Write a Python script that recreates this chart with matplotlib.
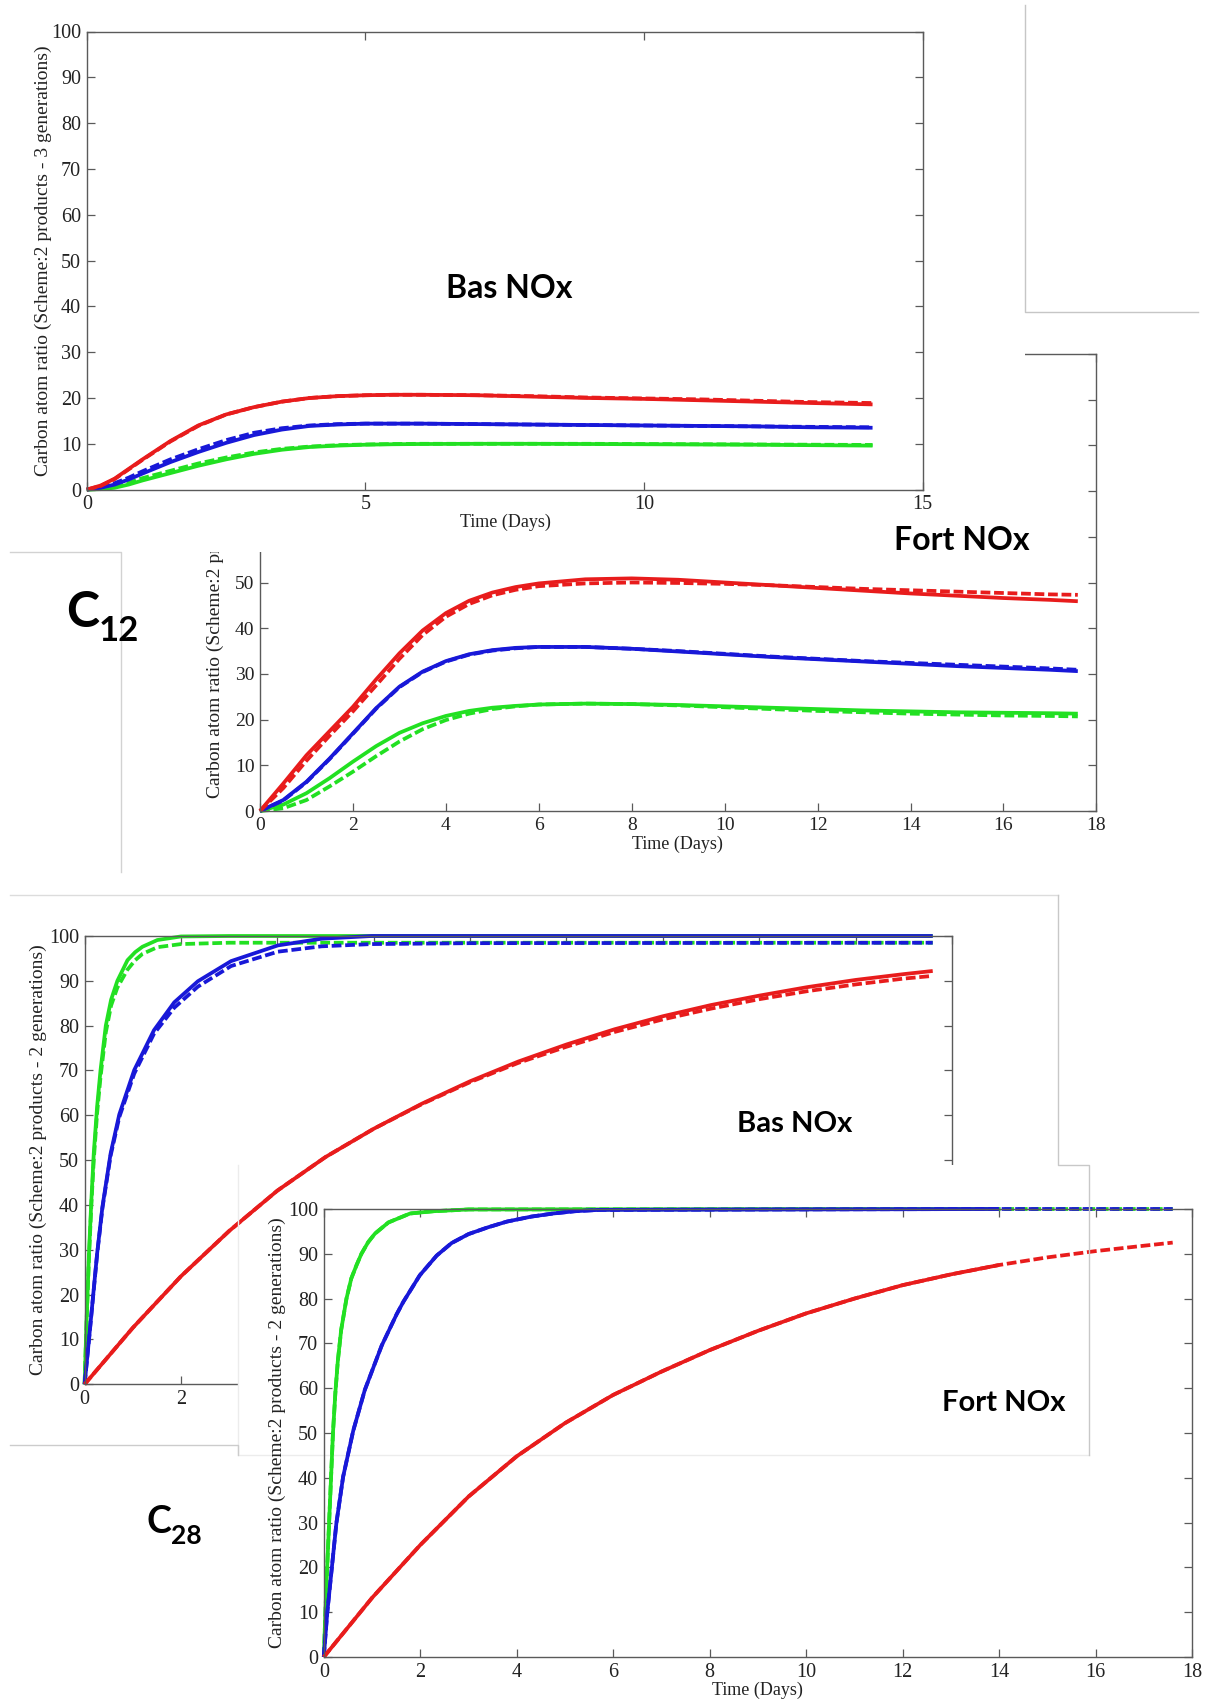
import matplotlib
matplotlib.use('Agg')
import matplotlib.pyplot as plt
from matplotlib.patches import Rectangle
from matplotlib.lines import Line2D

plt.rcParams['font.family'] = ['Liberation Serif', 'DejaVu Serif']

W, H = 1206, 1702

# ------------------------------------------------------------------ data
# C12 - low NOx ("Bas NOx"), 3 generations
t_c12_bas = [0, 0.25, 0.5, 0.75, 1.0, 1.5, 2.0, 2.5, 3.0, 3.5, 4.0, 4.5, 5.0, 5.5, 6.0,
             7.0, 8.0, 9.0, 10.0, 11.0, 12.0, 13.0, 14.1]
red_c12_bas = [0, 0.9, 2.4, 4.5, 6.6, 10.6, 14.0, 16.4, 18.0, 19.2, 20.0, 20.4, 20.6, 20.7, 20.7,
               20.6, 20.3, 20.0, 19.8, 19.5, 19.2, 18.9, 18.6]
red_c12_bas_ref = [0, 0.8, 2.3, 4.4, 6.5, 10.5, 13.9, 16.4, 18.0, 19.2, 20.0, 20.4, 20.6, 20.7, 20.7,
                   20.6, 20.4, 20.1, 19.9, 19.7, 19.4, 19.1, 18.9]
blue_c12_bas = [0, 0.4, 1.1, 2.2, 3.5, 6.0, 8.2, 10.2, 11.9, 13.1, 13.9, 14.2, 14.4, 14.4, 14.4,
                14.3, 14.2, 14.1, 14.0, 13.9, 13.8, 13.6, 13.5]
blue_c12_bas_ref = [0, 0.5, 1.4, 2.6, 4.0, 6.6, 8.8, 10.8, 12.4, 13.4, 14.0, 14.3, 14.4, 14.4, 14.4,
                    14.3, 14.2, 14.1, 14.0, 13.9, 13.8, 13.7, 13.6]
green_c12_bas = [0, 0.1, 0.4, 1.1, 2.0, 3.6, 5.2, 6.6, 7.8, 8.7, 9.3, 9.6, 9.8, 9.9, 9.95,
                 10.0, 10.0, 9.95, 9.9, 9.85, 9.8, 9.7, 9.6]
green_c12_bas_ref = [0, 0.2, 0.7, 1.5, 2.5, 4.1, 5.7, 7.0, 8.1, 8.9, 9.4, 9.7, 9.85, 9.95, 10.0,
                     10.0, 10.0, 10.0, 9.95, 9.9, 9.85, 9.8, 9.75]

# C12 - high NOx ("Fort NOx")
t_c12_fort = [0, 0.5, 1, 1.5, 2, 2.5, 3, 3.5, 4, 4.5, 5, 5.5, 6, 7, 8, 9, 10, 11, 12, 13, 14,
              15, 16, 17, 17.6]
red_c12_fort = [0, 6.0, 12.2, 17.5, 22.8, 28.8, 34.5, 39.5, 43.3, 46.0, 47.8, 49.0, 49.8, 50.7,
                50.9, 50.6, 50.0, 49.4, 48.8, 48.2, 47.6, 47.1, 46.6, 46.2, 45.9]
red_c12_fort_ref = [0, 5.0, 11.0, 16.5, 21.8, 27.5, 33.3, 38.5, 42.5, 45.3, 47.2, 48.4, 49.2, 49.8,
                    50.0, 49.9, 49.7, 49.4, 49.0, 48.6, 48.3, 48.0, 47.7, 47.4, 47.3]
blue_c12_fort = [0, 2.4, 6.4, 11.5, 17.0, 22.5, 27.2, 30.5, 32.8, 34.3, 35.2, 35.7, 35.9, 35.9,
                 35.5, 34.9, 34.3, 33.7, 33.2, 32.7, 32.2, 31.7, 31.3, 30.9, 30.6]
blue_c12_fort_ref = [0, 2.3, 6.3, 11.4, 16.9, 22.4, 27.1, 30.4, 32.7, 34.2, 35.1, 35.6, 35.9, 35.9,
                     35.5, 35.0, 34.4, 33.8, 33.3, 32.8, 32.4, 32.0, 31.6, 31.2, 30.9]
green_c12_fort = [0, 1.4, 3.9, 7.2, 10.8, 14.2, 17.1, 19.2, 20.8, 21.9, 22.6, 23.0, 23.3, 23.5,
                  23.4, 23.2, 22.9, 22.6, 22.3, 22.0, 21.8, 21.6, 21.5, 21.4, 21.3]
green_c12_fort_ref = [0, 0.6, 2.4, 5.4, 8.6, 12.0, 15.2, 17.9, 19.9, 21.3, 22.3, 22.9, 23.3, 23.5,
                      23.4, 23.1, 22.7, 22.3, 21.9, 21.6, 21.3, 21.1, 20.9, 20.8, 20.7]

# C28 - low NOx ("Bas NOx"), 2 generations
t_c28_bas_red = [0, 1, 2, 3, 4, 5, 6, 7, 8, 9, 10, 11, 12, 13, 14, 15, 16, 17, 17.6]
red_c28_bas = [0, 12.6, 24.1, 34.2, 43.2, 50.7, 57.0, 62.6, 67.6, 72.0, 75.8, 79.2, 82.1, 84.6,
               86.7, 88.6, 90.2, 91.5, 92.2]
red_c28_bas_ref = [0, 12.6, 24.1, 34.2, 43.2, 50.7, 57.0, 62.5, 67.4, 71.7, 75.3, 78.6, 81.4, 83.8,
                   85.9, 87.7, 89.2, 90.5, 91.1]
t_c28_bas_green = [0, 0.04, 0.09, 0.14, 0.19, 0.26, 0.33, 0.44, 0.55, 0.68, 0.89, 1.05, 1.2, 1.51,
                   2.0, 3.0, 17.6]
green_c28_bas = [0, 14, 29, 41, 51.5, 62, 70, 80, 85.8, 90, 94.6, 96.4, 97.6, 99.1, 99.9, 100, 100]
green_c28_bas_ref = [0, 13.5, 28, 40, 50, 60.5, 68.5, 78.5, 84.5, 88.5, 92.5, 94.6, 96.0, 97.5,
                     98.2, 98.5, 98.5]
t_c28_bas_blue = [0, 0.09, 0.26, 0.37, 0.54, 0.72, 1.03, 1.44, 1.86, 2.35, 3.04, 4.01, 4.92, 5.96,
                  8.0, 17.6]
blue_c28_bas = [0, 9.9, 29.2, 39.6, 51.5, 60.2, 70.1, 79.0, 85.2, 89.9, 94.4, 97.9, 99.4, 100,
                100, 100]
blue_c28_bas_ref = [0, 9.8, 29.0, 39.3, 51.0, 59.6, 69.3, 78.2, 84.0, 88.7, 93.3, 96.5, 97.7, 98.2,
                    98.4, 98.5]

# C28 - high NOx ("Fort NOx")
t_c28_fort_red = [0, 1, 2, 3, 4, 5, 6, 7, 8, 9, 10, 11, 12, 13, 14]
red_c28_fort = [0, 13.2, 25.0, 35.8, 44.8, 52.2, 58.5, 63.7, 68.5, 72.8, 76.7, 80.0, 83.0, 85.4,
                87.5]
t_c28_fort_red_ref = [0, 1, 2, 3, 4, 5, 6, 7, 8, 9, 10, 11, 12, 13, 14, 15, 16, 17, 17.6]
red_c28_fort_ref = [0, 13.2, 25.0, 35.8, 44.8, 52.2, 58.5, 63.7, 68.5, 72.8, 76.7, 80.0, 83.0, 85.4,
                    87.5, 89.2, 90.6, 91.8, 92.5]
t_c28_fort_green = [0, 0.05, 0.11, 0.19, 0.24, 0.29, 0.36, 0.47, 0.57, 0.68, 0.78, 0.92, 1.06,
                    1.34, 1.79, 2.27, 3.0, 14.0]
green_c28_fort = [0, 15, 30, 50, 59, 66, 73, 80, 84.5, 87.5, 90, 92.6, 94.5, 97, 99, 99.5, 99.9, 100]
t_c28_fort_green_ref = [0, 0.05, 0.11, 0.19, 0.24, 0.29, 0.36, 0.47, 0.57, 0.68, 0.78, 0.92, 1.06,
                        1.34, 1.79, 2.27, 3.0, 14.0, 17.6]
green_c28_fort_ref = [0, 15, 30, 50, 59, 66, 73, 80, 84.5, 87.5, 90, 92.6, 94.5, 97, 99, 99.5, 99.9,
                      100, 100]
t_c28_fort_blue = [0, 0.07, 0.26, 0.40, 0.61, 0.85, 1.2, 1.51, 1.65, 1.99, 2.34, 2.65, 3.0, 3.4,
                   3.8, 4.3, 4.76, 5.2, 5.7, 14.0]
blue_c28_fort = [0, 9.7, 29.8, 40.2, 50.5, 59.6, 69.5, 76.5, 79.3, 85.2, 89.6, 92.4, 94.4, 95.9,
                 97.2, 98.3, 99.0, 99.5, 99.8, 100]
t_c28_fort_blue_ref = [0, 0.07, 0.26, 0.40, 0.61, 0.85, 1.2, 1.51, 1.65, 1.99, 2.34, 2.65, 3.0,
                       3.4, 3.8, 4.3, 4.76, 5.2, 5.7, 14.0, 17.6]
blue_c28_fort_ref = [0, 9.7, 29.8, 40.2, 50.5, 59.6, 69.5, 76.5, 79.3, 85.2, 89.6, 92.4, 94.4, 95.9,
                     97.2, 98.3, 99.0, 99.5, 99.8, 100, 100]

# tick labels / texts
yticks = list(range(0, 101, 10))
xticks_15 = [0, 5, 10, 15]
xticks_18 = list(range(0, 19, 2))
xlabel_txt = 'Time (Days)'
ylabel_3gen = 'Carbon atom ratio (Scheme:2 products - 3 generations)'
ylabel_2gen = 'Carbon atom ratio (Scheme:2 products - 2 generations)'

RED, BLUE, GREEN = '#e81c1c', '#1818d8', '#22e022'
LW = 2.7
DASH = (0, (2.6, 1.0))

fig = plt.figure(figsize=(W / 100, H / 100), dpi=100)
fig.patch.set_facecolor('white')


def fbox(x0, y0, x1, y1):
    return [x0 / W, 1 - y1 / H, (x1 - x0) / W, (y1 - y0) / H]


def cover(x0, y0, x1, y1, z):
    fig.add_artist(Rectangle((x0 / W, 1 - y1 / H), (x1 - x0) / W, (y1 - y0) / H,
                             transform=fig.transFigure, facecolor='white',
                             edgecolor='none', zorder=z))


def fline(xs, ys, z, color='#c4c4c4', lw=1.0):
    fig.add_artist(Line2D([x / W for x in xs], [1 - y / H for y in ys],
                          transform=fig.transFigure, color=color, lw=lw, zorder=z))


def panel(box, z, xmax, xticks, ylabel, xl_px, yl_px, fs=14.5, xlabel=True):
    x0, y0, x1, y1 = box
    ax = fig.add_axes(fbox(*box), zorder=z)
    ax.set_facecolor('none')
    ax.set_xlim(0, xmax)
    ax.set_ylim(0, 100)
    ax.set_xticks(xticks)
    ax.set_yticks(yticks)
    for s in ax.spines.values():
        s.set_color('#5a5a5a')
        s.set_linewidth(1.0)
    ax.tick_params(direction='in', length=6, width=0.9, color='#5a5a5a', top=True,
                   right=True, labelsize=fs, pad=4, labelcolor='#222222')
    if xlabel:
        ax.set_xlabel(xlabel_txt, fontsize=13, color='#222222')
        ax.xaxis.set_label_coords((xl_px[0] - x0) / (x1 - x0), (y1 - xl_px[1]) / (y1 - y0))
        ax.xaxis.label.set_va('center')
    ax.set_ylabel(ylabel, fontsize=14, color='#222222')
    ax.yaxis.set_label_coords((yl_px[0] - x0) / (x1 - x0), (y1 - yl_px[1]) / (y1 - y0))
    ax.yaxis.label.set_va('center')
    return ax


def curve(ax, t, v, color, dashed=False):
    ax.plot(t, v, color=color, lw=LW, linestyle=DASH if dashed else '-',
            clip_on=False, solid_capstyle='butt', dash_capstyle='butt',
            solid_joinstyle='round')


# ---------------- panel B: C12 Fort NOx (bottom layer)
boxB = (260, 354, 1096.4, 811)
axB = panel(boxB, 1, 18, xticks_18, ylabel_3gen, (677, 844.5), (215, 582.5), fs=14)
curve(axB, t_c12_fort, green_c12_fort, GREEN)
curve(axB, t_c12_fort, green_c12_fort_ref, GREEN, True)
curve(axB, t_c12_fort, blue_c12_fort, BLUE)
curve(axB, t_c12_fort, blue_c12_fort_ref, BLUE, True)
curve(axB, t_c12_fort, red_c12_fort, RED)
curve(axB, t_c12_fort, red_c12_fort_ref, RED, True)
# labels 60..100 of this picture are hidden under the picture pasted above it
for lab, val in zip(axB.get_yticklabels(), yticks):
    lab.set_visible(val <= 50)

# ---------------- panel A: C12 Bas NOx
cover(0, 0, 1024.7, 551.7, 2)
boxA = (86.8, 31.5, 922.7, 489.6)
axA = panel(boxA, 3, 15, xticks_15, ylabel_3gen, (505, 522), (43, 260.5), fs=14.5)
curve(axA, t_c12_bas, green_c12_bas, GREEN)
curve(axA, t_c12_bas, green_c12_bas_ref, GREEN, True)
curve(axA, t_c12_bas, blue_c12_bas, BLUE)
curve(axA, t_c12_bas, blue_c12_bas_ref, BLUE, True)
curve(axA, t_c12_bas, red_c12_bas, RED)
curve(axA, t_c12_bas, red_c12_bas_ref, RED, True)

# ---------------- panel C: C28 Bas NOx (its lower right part is hidden by panel D)
cover(0, 893, 1058, 1445, 4)
boxC = (84.6, 936, 952, 1384.3)
axC = panel(boxC, 5, 18, xticks_18, ylabel_2gen, None, (38, 1160), fs=14.5, xlabel=False)
for lab, val in zip(axC.get_xticklabels(), xticks_18):
    lab.set_visible(val <= 2)
curve(axC, t_c28_bas_green, green_c28_bas, GREEN)
curve(axC, t_c28_bas_green, green_c28_bas_ref, GREEN, True)
curve(axC, t_c28_bas_blue, blue_c28_bas, BLUE)
curve(axC, t_c28_bas_blue, blue_c28_bas_ref, BLUE, True)
curve(axC, t_c28_bas_red, red_c28_bas, RED)
curve(axC, t_c28_bas_red, red_c28_bas_ref, RED, True)

# ---------------- panel D: C28 Fort NOx
cover(320, 1165, W, H, 6)
cover(238, 1230, 320, H, 6)
fline([238, 238, 1089], [1165, 1455, 1455], 6.5, color='#ececec')
boxD = (323.8, 1209, 1192, 1657)
axD = panel(boxD, 7, 18, xticks_18, ylabel_2gen, (757, 1690), (277, 1433), fs=14.5)
curve(axD, t_c28_fort_green, green_c28_fort, GREEN)
curve(axD, t_c28_fort_green_ref, green_c28_fort_ref, GREEN, True)
curve(axD, t_c28_fort_blue, blue_c28_fort, BLUE)
curve(axD, t_c28_fort_blue_ref, blue_c28_fort_ref, BLUE, True)
curve(axD, t_c28_fort_red, red_c28_fort, RED)
curve(axD, t_c28_fort_red_ref, red_c28_fort_ref, RED, True)

# ---------------- frames of the pasted pictures
fline([1024.7, 1024.7, 1198], [5, 311.5, 311.5], 9, color='#c6c6c6')
fline([10, 120.7, 120.7], [551.7, 551.7, 871.7], 9, color='#d2d2d2')
fline([10, 1058], [895, 895], 9, color='#dcdcdc')
fline([1058, 1058, 1089, 1089], [895, 1165, 1165, 1455], 9, color='#c8c8c8')
fline([10, 238, 238], [1445, 1445, 1455], 9, color='#cccccc')

# ---------------- annotations
big = ['Lato', 'DejaVu Sans']
fig.text(509 / W, 1 - 298 / H, 'Bas NOx', fontsize=23, fontweight='bold', family=big,
         ha='center', va='baseline', zorder=10)
fig.text(962 / W, 1 - 550 / H, 'Fort NOx', fontsize=23, fontweight='bold', family=big,
         ha='center', va='baseline', zorder=10)
fig.text(795 / W, 1 - 1132 / H, 'Bas NOx', fontsize=21, fontweight='bold', family=big,
         ha='center', va='baseline', zorder=10)
fig.text(1004 / W, 1 - 1411 / H, 'Fort NOx', fontsize=21, fontweight='bold', family=big,
         ha='center', va='baseline', zorder=10)
fig.text(66 / W, 1 - 627 / H, 'C', fontsize=36, fontweight='bold', family=big,
         ha='left', va='baseline', zorder=10)
fig.text(99 / W, 1 - 641 / H, '12', fontsize=25, fontweight='bold', family=big,
         ha='left', va='baseline', zorder=10)
fig.text(147 / W, 1 - 1533 / H, 'C', fontsize=27, fontweight='bold', family=big,
         ha='left', va='baseline', zorder=10)
fig.text(171 / W, 1 - 1544 / H, '28', fontsize=19, fontweight='bold', family=big,
         ha='left', va='baseline', zorder=10)

fig.savefig('out.png', dpi=100, facecolor='white')
